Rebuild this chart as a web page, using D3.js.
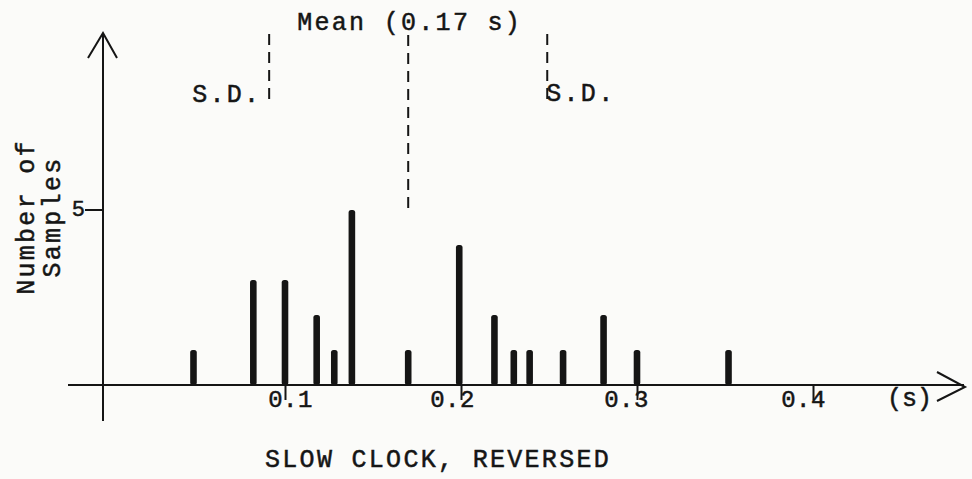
<!DOCTYPE html>
<html>
<head>
<meta charset="utf-8">
<script src="https://cdn.jsdelivr.net/npm/d3@7/dist/d3.min.js"></script>
<style>
  html, body { margin: 0; padding: 0; background: #fbfbf9; }
  svg { display: block; }
  text { font-family: "Liberation Mono", "Courier New", monospace; fill: #151515; stroke: #151515; stroke-width: 0.5px; }
</style>
</head>
<body>
<svg id="chart" width="972" height="479"></svg>
<script>
// ---- data ----
const delays = [0.048, 0.082, 0.100, 0.118, 0.128, 0.138, 0.170, 0.199, 0.219, 0.230, 0.239, 0.258, 0.281, 0.300, 0.352];
const counts = [1, 3, 3, 2, 1, 5, 1, 4, 2, 1, 1, 1, 2, 1, 1];
const xTicks = [0.1, 0.2, 0.3, 0.4];
const xTickLabels = ["0.1", "0.2", "0.3", "0.4"];
const yTicks = [5];
const meanValue = 0.17;
const sdValue = 0.079;
const meanLabel = "Mean (0.17 s)";
const sdLabel = "S.D.";
const xTitle = "SLOW CLOCK, REVERSED";
const xUnit = "(s)";
const yTitle = ["Number of", "Samples"];

// ---- layout ----
const svg = d3.select("#chart");
const ink = "#151515";
const x = d3.scaleLinear().domain([0, 0.4]).range([109, 813]);
const y = d3.scaleLinear().domain([0, 5]).range([385, 210]);
const axisX = 103;      // y axis position
const baseY = y(0);
const tickLabelNudge = [5, -9, -11, -10];   // typewriter label offsets relative to tick marks

const g = svg.append("g");

// x axis line with arrow
g.append("line").attr("x1", 68).attr("x2", 964).attr("y1", baseY).attr("y2", baseY)
  .attr("stroke", ink).attr("stroke-width", 2);
g.append("path").attr("d", `M937,${baseY - 13} L965,${baseY + 2} L937,${baseY + 16}`)
  .attr("fill", "none").attr("stroke", ink).attr("stroke-width", 2);

// y axis line with arrow
g.append("line").attr("x1", axisX).attr("x2", axisX).attr("y1", 34).attr("y2", 421)
  .attr("stroke", ink).attr("stroke-width", 2);
g.append("path").attr("d", `M88,58 L${axisX},33 L117,58`)
  .attr("fill", "none").attr("stroke", ink).attr("stroke-width", 2);

// x ticks via d3 axis
const xAxis = d3.axisBottom(x).tickValues(xTicks).tickSize(15)
  .tickFormat((d, i) => xTickLabels[i]);
const xg = g.append("g").attr("transform", `translate(0,${baseY})`).call(xAxis);
xg.select(".domain").remove();
xg.selectAll(".tick line").attr("stroke", ink).attr("stroke-width", 2);
xg.selectAll(".tick text")
  .attr("y", 22).attr("dy", 0).attr("dx", (d, i) => tickLabelNudge[i])
  .attr("font-family", "Liberation Mono, monospace")
  .attr("font-size", 24).attr("letter-spacing", 0.4)
  .attr("fill", ink);

// y ticks
const yg = g.append("g");
yg.selectAll("line").data(yTicks).join("line")
  .attr("x1", 85).attr("x2", axisX).attr("y1", d => y(d)).attr("y2", d => y(d))
  .attr("stroke", ink).attr("stroke-width", 2);
yg.selectAll("text").data(yTicks).join("text")
  .attr("x", 85).attr("y", d => y(d) + 6)
  .attr("text-anchor", "end")
  .attr("font-size", 22)
  .text(d => d);

// bars
g.selectAll("rect.bar").data(delays).join("rect")
  .attr("class", "bar")
  .attr("x", d => x(d) - 3.3)
  .attr("width", 6.6)
  .attr("y", (d, i) => y(counts[i]))
  .attr("height", (d, i) => baseY - y(counts[i]))
  .attr("rx", 2.5)
  .attr("fill", ink);

// mean & SD dashed lines
const dash = "11,7";
g.append("line").attr("x1", x(meanValue)).attr("x2", x(meanValue)).attr("y1", 35).attr("y2", 210)
  .attr("stroke", ink).attr("stroke-width", 2).attr("stroke-dasharray", dash);
[meanValue - sdValue, meanValue + sdValue].forEach(v => {
  g.append("line").attr("x1", x(v)).attr("x2", x(v)).attr("y1", 34).attr("y2", 106)
    .attr("stroke", ink).attr("stroke-width", 2).attr("stroke-dasharray", dash);
});

const bigFont = 25, spacing = 2.3;
g.append("text").attr("x", x(meanValue) - 111).attr("y", 30)
  .attr("font-size", bigFont).attr("letter-spacing", spacing).text(meanLabel);
g.append("text").attr("x", x(meanValue - sdValue) - 77).attr("y", 102)
  .attr("font-size", bigFont).attr("letter-spacing", spacing).text(sdLabel);
g.append("text").attr("x", x(meanValue + sdValue) - 1).attr("y", 101)
  .attr("font-size", bigFont).attr("letter-spacing", spacing).text(sdLabel);

// x unit
g.append("text").attr("x", 887).attr("y", 406)
  .attr("font-size", bigFont).attr("letter-spacing", 0).text(xUnit);

// x title
g.append("text").attr("x", 265).attr("y", 467)
  .attr("font-size", bigFont).attr("letter-spacing", spacing).text(xTitle);

// y title (rotated, two lines)
yTitle.forEach((t, i) => {
  g.append("text")
    .attr("transform", `translate(${34 + i * 26},217) rotate(-90)`)
    .attr("text-anchor", "middle")
    .attr("font-size", bigFont).attr("letter-spacing", spacing)
    .text(t);
});
</script>
</body>
</html>
